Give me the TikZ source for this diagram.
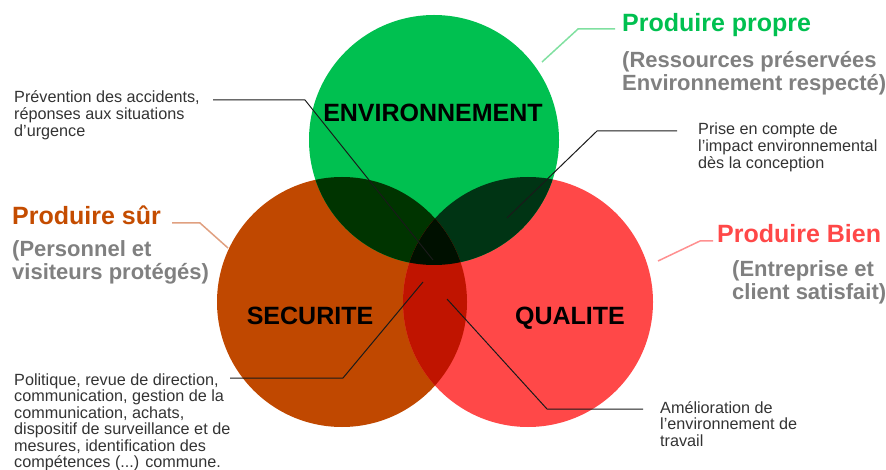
\documentclass[tikz,border=0pt]{standalone}
\usepackage{fontspec}
\setmainfont{Liberation Sans}
\definecolor{cgreen}{HTML}{00C050}
\definecolor{corange}{HTML}{C04800}
\definecolor{cred}{HTML}{FF4848}
\definecolor{cgo}{HTML}{003400}
\definecolor{cgr}{HTML}{003414}
\definecolor{cor}{HTML}{C01400}
\definecolor{call}{HTML}{001000}
\definecolor{tgreen}{HTML}{00C050}
\definecolor{torange}{HTML}{C44C00}
\definecolor{tred}{HTML}{FF4848}
\definecolor{subgray}{HTML}{808080}
\definecolor{smalltext}{HTML}{333333}
\definecolor{connc}{HTML}{1A1A1A}
\definecolor{lgreen}{HTML}{80E0A0}
\definecolor{lorange}{HTML}{E0A080}
\definecolor{lred}{HTML}{FF9090}
\begin{document}
\begin{tikzpicture}[x=1pt,y=-1pt,
  circ/.style={circle, minimum size=250pt, inner sep=0pt, draw=none},
  big/.style={font=\fontsize{25}{25}\selectfont\bfseries},
  sub/.style={font=\fontsize{22}{21.5}\selectfont\bfseries, text=subgray},
  small/.style={font=\fontsize{16.2}{16}\selectfont, text=smalltext},
  txt/.style={anchor=base west, inner sep=0pt},
  lbl/.style={anchor=base, inner sep=0pt, font=\fontsize{25}{25}\selectfont\bfseries},
  conn/.style={draw=connc, line width=1pt, line join=miter},
  colconn/.style={line width=1.5pt}
]
\useasboundingbox (0,0) rectangle (886,470);
% circles
\node[circ, fill=corange] (sec) at (342,302) {};
\node[circ, fill=cred] (qual) at (528,302) {};
\node[circ, fill=cgreen] (env) at (434,140) {};
% intersections
\begin{scope}
  \clip (env.center) circle[radius=125pt];
  \fill[cgo] (sec.center) circle[radius=125pt];
\end{scope}
\begin{scope}
  \clip (env.center) circle[radius=125pt];
  \fill[cgr] (qual.center) circle[radius=125pt];
\end{scope}
\begin{scope}
  \clip (sec.center) circle[radius=125pt];
  \fill[cor] (qual.center) circle[radius=125pt];
\end{scope}
\begin{scope}
  \clip (env.center) circle[radius=125pt];
  \clip (sec.center) circle[radius=125pt];
  \fill[call] (qual.center) circle[radius=125pt];
\end{scope}
% circle labels
\node[lbl] (envl) at (433,122) {ENVIRONNEMENT};
\node[lbl] (secl) at (310,324) {SECURITE};
\node[lbl] (quall) at (570,324) {QUALITE};
% titles
\node[txt, big, text=tgreen] (pp) at (622,32) {Produire propre};
\node[txt, sub] (ppsub) at (622,68) {\begin{tabular}[t]{@{}l@{}}(Ressources préservées\\Environnement respecté)\end{tabular}};
\node[txt, big, text=torange] (ps) at (12,225) {Produire sûr};
\node[txt, sub] (pssub) at (12,257) {\begin{tabular}[t]{@{}l@{}}(Personnel et\\visiteurs protégés)\end{tabular}};
\node[txt, big, text=tred] (pb) at (717,243) {Produire Bien};
\node[txt, sub] (pbsub) at (732,277) {\begin{tabular}[t]{@{}l@{}}(Entreprise et\\client satisfait)\end{tabular}};
% small texts
\node[txt, small] (prev) at (14,103) {\begin{tabular}[t]{@{}l@{}}Prévention des accidents,\\réponses aux situations\\d'urgence\end{tabular}};
\node[txt, small] (prise) at (698,135) {\begin{tabular}[t]{@{}l@{}}Prise en compte de\\l'impact environnemental\\dès la conception\end{tabular}};
\node[txt, small] (polit) at (14,385) {\begin{tabular}[t]{@{}l@{}}Politique, revue de direction,\\communication, gestion de la\\communication, achats,\\dispositif de surveillance et de\\mesures, identification des\\compétences (...) commune.\end{tabular}};
\node[txt, small] (amel) at (660,413) {\begin{tabular}[t]{@{}l@{}}Amélioration de\\l'environnement de\\travail\end{tabular}};
% connector points
\coordinate (prevA) at (213,100);
\coordinate (prevB) at (305,100);
\coordinate (prevC) at (433,260);
\coordinate (priseA) at (677,131);
\coordinate (priseB) at (597,131);
\coordinate (priseC) at (507,218);
\coordinate (politA) at (230,378);
\coordinate (politB) at (343,378);
\coordinate (politC) at (423,282);
\coordinate (amelA) at (643,409);
\coordinate (amelB) at (547,409);
\coordinate (amelC) at (447,299);
\coordinate (ppA) at (615,29);
\coordinate (ppB) at (578,29);
\coordinate (ppC) at (542,62);
\coordinate (psA) at (172,223);
\coordinate (psB) at (200,223);
\coordinate (psC) at (228,248);
\coordinate (pbA) at (713,241);
\coordinate (pbB) at (700,241);
\coordinate (pbC) at (658,261);
% connectors
\draw[conn] (prevA) -- (prevB) -- (prevC);
\draw[conn] (priseA) -- (priseB) -- (priseC);
\draw[conn] (politA) -- (politB) -- (politC);
\draw[conn] (amelA) -- (amelB) -- (amelC);
\draw[colconn, draw=lgreen] (ppA) -- (ppB) -- (ppC);
\draw[colconn, draw=lorange] (psA) -- (psB) -- (psC);
\draw[colconn, draw=lred] (pbA) -- (pbB) -- (pbC);
\end{tikzpicture}
\end{document}
